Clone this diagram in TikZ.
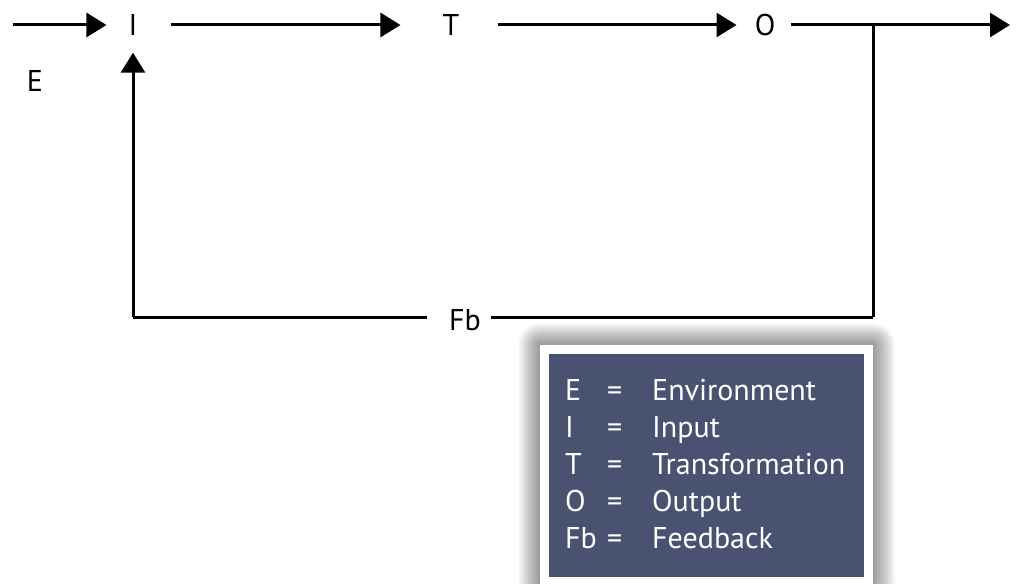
\documentclass[tikz,border=0pt]{standalone}
\usepackage{fontspec}
\setmainfont{PT Sans}
\usetikzlibrary{arrows.meta}
\definecolor{legendblue}{RGB}{74,82,113}
\tikzset{
  flow/.style={line width=3pt,-{Triangle[length=20pt,width=24pt]}},
  wire/.style={line width=3pt},
  lbl/.style={inner sep=0pt,font=\fontsize{30}{36}\selectfont},
  legtxt/.style={inner sep=0pt,anchor=base west,text=white,font=\fontsize{30}{36}\selectfont},
  legendbox/.style={draw=white,line width=9pt,fill=legendblue,outer sep=0pt},
  haze/.style={fill=black,opacity=0.018}
}
\begin{document}
\begin{tikzpicture}[x=1pt,y=-1pt]
\useasboundingbox[fill=white] (0,0) rectangle (1016,583);
% main signal path
\coordinate (src) at (13,25);
\node[lbl] (I) at (133,25) {I};
\node[lbl] (T) at (451,25) {T};
\node[lbl] (O) at (765,25) {O};
\coordinate (out) at (1010,25);
\node[lbl] (E) at (35,81) {E};
\draw[flow,shorten >=22pt] (src) -- (I);
\draw[flow,shorten <=33pt,shorten >=42pt] (I) -- (T);
\draw[flow,shorten <=38pt,shorten >=18pt] (T) -- (O);
\draw[flow,shorten <=16pt] (O) -- (out);
% feedback loop
\coordinate (split) at (873,25);
\coordinate (fbr) at (873,317);
\coordinate (fbl) at (133,317);
\node[lbl] (Fb) at (465,320) {Fb};
\draw[wire] (split) -- (fbr);
\draw[wire,shorten >=10pt] (fbr) -- (Fb.east |- fbr);
\draw[wire,shorten <=22pt] (Fb.west |- fbl) -- (fbl);
\draw[flow,shorten >=17pt] (fbl) -- (I);
% soft shadow behind the legend
\foreach \r in {1,...,22}{
  \fill[haze,rounded corners=\r pt] ({540-\r},{345-\r}) rectangle ({873+\r},{586+\r});
}
% legend
\node[legendbox,minimum width=324pt,minimum height=232pt,anchor=north west] (key) at (544.5,349.5) {};
\foreach \ab/\full [count=\k] in {E/Environment,I/Input,T/Transformation,O/Output,Fb/Feedback}{
  \node[legtxt] (ka\k) at (565,{400+37*(\k-1)}) {\ab};
  \node[legtxt] (ke\k) at (607,{400+37*(\k-1)}) {=};
  \node[legtxt] (kf\k) at (652,{400+37*(\k-1)}) {\full};
}
\end{tikzpicture}
\end{document}
